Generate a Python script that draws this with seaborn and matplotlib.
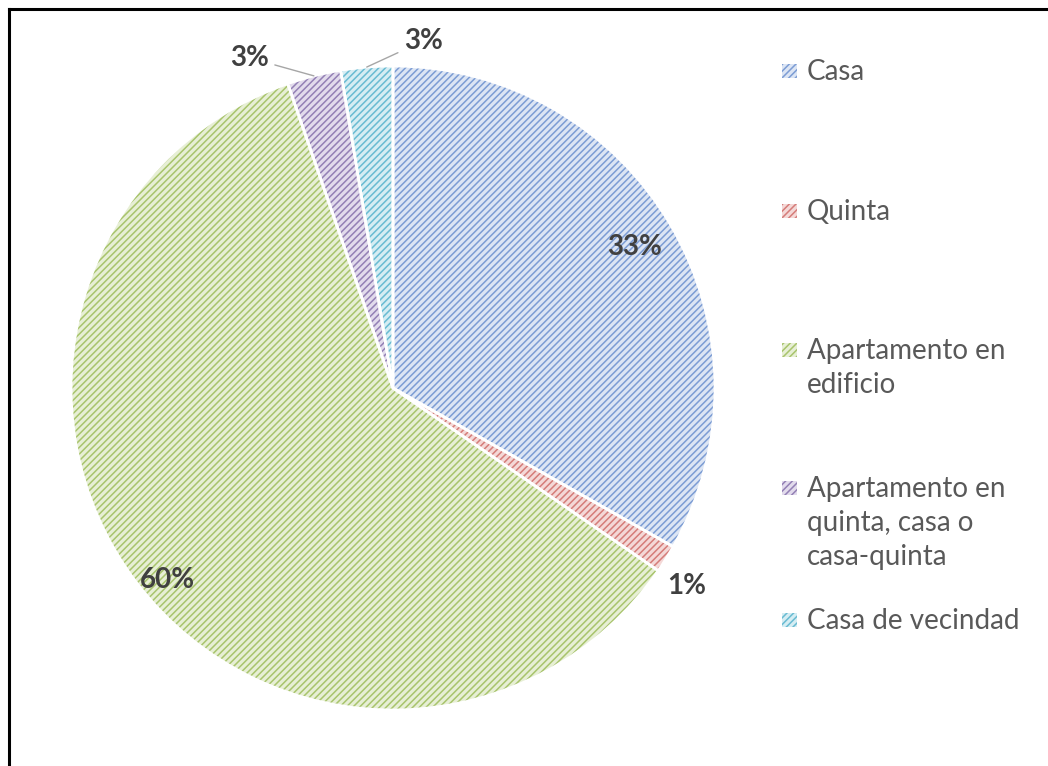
import numpy as np
import matplotlib
matplotlib.use("Agg")
import matplotlib.pyplot as plt
from matplotlib.patches import Rectangle
from matplotlib.lines import Line2D
import seaborn as sns

#? Data
categories = ["Casa", "Quinta", "Apartamento en edificio",
              "Apartamento en quinta, casa o casa-quinta", "Casa de vecindad"]
legend_labels = ["Casa", "Quinta", "Apartamento en\nedificio",
                 "Apartamento en\nquinta, casa o\ncasa-quinta", "Casa de vecindad"]
values = [33.2, 1.4, 60.1, 2.7, 2.6]

#? Styles
face_colors = ["#DCE5F4", "#F4D8D7", "#E7EFD5", "#E2DBEC", "#D5EDF3"]
hatch_colors = ["#7C9CD4", "#D57C79", "#A8C46C", "#9380B5", "#68BBD2"]
label_dist = [0.87, 1.10, 0.92, None, None]   # None -> label with leader line
label_shift = [0, -2.0, 3.2, 0, 0]             # small angle tweaks (deg)
leader_offset = {3: (-45, 5), 4: (37, 13)}     # offsets in pixels for the small slices

sns.set_theme(style="white")
plt.rcParams["font.family"] = ["Lato", "DejaVu Sans"]
plt.rcParams["hatch.linewidth"] = 1.1

W, H = 1048, 766
fig = plt.figure(figsize=(W / 100, H / 100), dpi=100)
fig.patch.set_facecolor("white")

cx, cy, R = 393, 388, 322
ax = fig.add_axes([(cx - R) / W, (H - cy - R) / H, 2 * R / W, 2 * R / H])

#? Hatched wedges, then white borders on top
wedges, _ = ax.pie(values, startangle=90, counterclock=False, radius=1,
                   colors=face_colors,
                   wedgeprops=dict(linewidth=0))
for w, hc in zip(wedges, hatch_colors):
    w.set_hatch("/////")
    w.set_edgecolor(hc)
    w.set_linewidth(0)

borders, _ = ax.pie(values, startangle=90, counterclock=False, radius=1,
                    colors=face_colors,
                    wedgeprops=dict(fill=False, edgecolor="white", linewidth=2))

ax.set_xlim(-1, 1)
ax.set_ylim(-1, 1)
ax.set_aspect("equal")
ax.axis("off")

#? Percent labels
total = sum(values)
for i, w in enumerate(wedges):
    mid = np.deg2rad((w.theta1 + w.theta2) / 2)
    txt = f"{round(values[i] / total * 100):.0f}%"
    if label_dist[i] is not None:
        d = label_dist[i]
        a = mid + np.deg2rad(label_shift[i])
        ax.text(d * np.cos(a), d * np.sin(a), txt, ha="center", va="center",
                fontsize=20, fontweight="bold", color="#404040")
    else:
        x0, y0 = np.cos(mid), np.sin(mid)
        dx, dy = leader_offset[i]
        ax.annotate(txt, xy=(x0, y0), xytext=(dx, dy), textcoords="offset pixels",
                    ha="right" if dx < 0 else "left", va="bottom",
                    fontsize=20, fontweight="bold", color="#404040",
                    arrowprops=dict(arrowstyle="-", color="#A6A6A6", lw=1,
                                    shrinkA=2, shrinkB=0))

#? Manual legend (Excel-style spacing)
legend_y = [71, 211, 350, 488, 620]
for lab, y, fc, hc in zip(legend_labels, legend_y, face_colors, hatch_colors):
    fig.add_artist(Rectangle((782 / W, (H - y - 7) / H), 15 / W, 14 / H,
                             transform=fig.transFigure, facecolor=fc,
                             edgecolor=hc, hatch="/////", linewidth=0))
    fig.text(807 / W, (H - y + 12) / H, lab, ha="left", va="top",
             fontsize=20, color="#595959", linespacing=1.38)

#? Partial frame (top and left edges)
fig.add_artist(Line2D([8.5 / W, 8.5 / W], [0, 1 - 8.5 / H], transform=fig.transFigure,
                      color="black", lw=2.2, solid_capstyle="projecting"))
fig.add_artist(Line2D([8.5 / W, 1], [1 - 8.5 / H, 1 - 8.5 / H], transform=fig.transFigure,
                      color="black", lw=2.2, solid_capstyle="projecting"))

fig.savefig("out.png", dpi=100)
